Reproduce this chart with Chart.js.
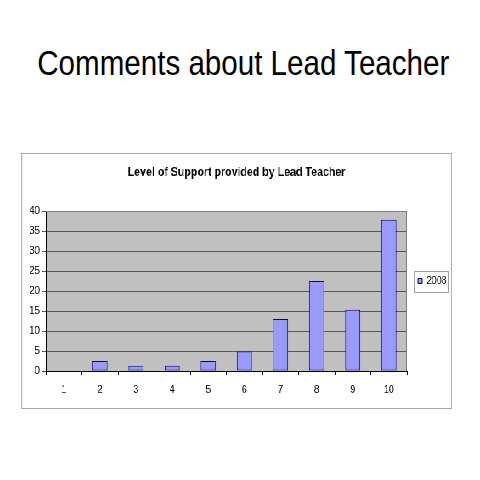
<!DOCTYPE html>
<html>
<head>
<meta charset="utf-8">
<script src="https://cdn.jsdelivr.net/npm/chart.js@4.4.0/dist/chart.umd.min.js"></script>
<style>
  body { margin: 0; background: #fff; width: 480px; height: 480px; overflow: hidden; position: relative;
         font-family: "Liberation Sans", Arial, sans-serif; }
  #pageTitle { position: absolute; left: 0; top: 43px; width: 480px; text-align: center;
               font-size: 35px; line-height: 40px; color: #000; white-space: nowrap;
               transform: scaleX(0.845); transform-origin: 240px 0; }
  #chartBox { position: absolute; left: 21px; top: 153px; width: 505px; height: 254px;
              border: 1px solid #a6a6a6; transform: scaleX(0.85); transform-origin: 0 0; }
</style>
</head>
<body>
<div id="pageTitle">Comments about Lead Teacher</div>
<div id="chartBox"><canvas id="supportChart"></canvas></div>

<script>
// Data
var categories = ['1', '2', '3', '4', '5', '6', '7', '8', '9', '10'];
var support2008 = [0, 2.5, 1.3, 1.3, 2.5, 4.9, 13.0, 22.5, 15.3, 37.8];
var seriesLabel = '2008';
var chartTitle = 'Level of Support provided by Lead Teacher';
var yMin = 0, yMax = 40, yStep = 5;

// grey plot area like the old excel charts
var plotBackground = {
  id: 'plotBackground',
  beforeUpdate: function(chart) {
    // fixed legend width so the plot ends where it should
    var lg = chart.legend;
    if (lg && !lg._fixedWidth) {
      var fit = lg.fit;
      lg.fit = function() { fit.call(this); this.width = 52; };
      lg._fixedWidth = true;
    }
  },
  beforeDraw: function(chart) {
    var a = chart.chartArea, ctx = chart.ctx;
    ctx.save();
    ctx.fillStyle = '#c0c0c0';
    ctx.fillRect(a.left, a.top, a.right - a.left, a.bottom - a.top);
    ctx.restore();
  },
  afterDraw: function(chart) {
    var a = chart.chartArea, ctx = chart.ctx;
    ctx.save();
    ctx.strokeStyle = '#808080';
    ctx.lineWidth = 1;
    ctx.beginPath();
    ctx.moveTo(a.left, a.top + 0.5);
    ctx.lineTo(a.right - 0.5, a.top + 0.5);
    ctx.lineTo(a.right - 0.5, a.bottom);
    ctx.stroke();
    // box round the legend
    var lg = chart.legend;
    var box = lg.legendHitBoxes[0];
    if (box) {
      ctx.strokeStyle = '#a0a0a0';
      ctx.strokeRect(Math.round(lg.left + 8) + 0.5, Math.round(box.top - 5) + 0.5,
                     40, Math.round(box.height + 10));
    }
    ctx.restore();
  }
};

var ctx = document.getElementById('supportChart');

var barGraph = new Chart(ctx, {
  type: 'bar',
  data: {
    labels: categories,
    datasets: [{
      label: seriesLabel,
      data: support2008,
      backgroundColor: '#9999ff',
      borderColor: '#000080',
      borderWidth: 1,
      borderSkipped: false,
      barPercentage: 0.42,
      categoryPercentage: 1
    }]
  },
  options: {
    responsive: true,
    maintainAspectRatio: false,
    animation: false,
    layout: { padding: { left: 0, right: 0, top: 0, bottom: 0 } },
    scales: {
      x: {
        offset: true,
        grid: { display: true, drawOnChartArea: false, drawTicks: true, tickLength: 4, color: '#000', offset: true },
        border: { color: '#000' },
        ticks: { color: '#000', padding: 8, font: { family: 'Liberation Sans', size: 11 } },
        afterFit: function(scale) { scale.height = 37; }
      },
      y: {
        min: yMin,
        max: yMax,
        grid: { color: '#555', tickLength: 4 },
        border: { color: '#000' },
        ticks: { stepSize: yStep, color: '#000', padding: 3, font: { family: 'Liberation Sans', size: 11 } },
        afterFit: function(scale) { scale.width = 28; }
      }
    },
    plugins: {
      title: {
        display: true,
        text: chartTitle,
        color: '#000',
        font: { family: 'Liberation Sans', size: 12.5, weight: 'bold' },
        padding: { top: 11, bottom: 31 }
      },
      legend: {
        position: 'right',
        labels: {
          boxWidth: 5,
          boxHeight: 5,
          color: '#000',
          padding: 13,
          font: { family: 'Liberation Sans', size: 10.5 }
        }
      },
      tooltip: { enabled: false }
    }
  },
  plugins: [plotBackground]
});
</script>
</body>
</html>
